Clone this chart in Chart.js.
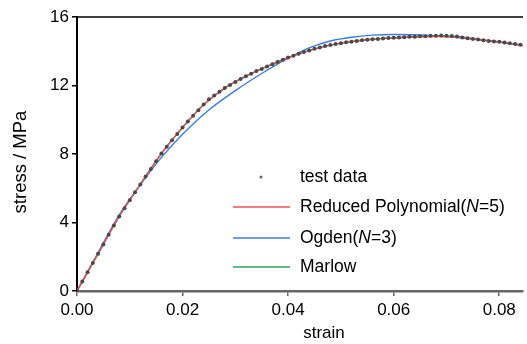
<!DOCTYPE html>
<html>
<head>
<meta charset="utf-8">
<script src="https://cdn.jsdelivr.net/npm/chart.js@4/dist/chart.umd.min.js"></script>
<style>
  html, body { margin: 0; padding: 0; background: #fff; }
  #wrap { width: 527px; height: 344px; position: relative; }
</style>
</head>
<body>
<div id="wrap"><canvas id="c" width="527" height="344"></canvas></div>
<script>
// ---- data ----
const seriesLabels = ['test data', 'Reduced Polynomial(N=5)', 'Ogden(N=3)', 'Marlow'];
const xTitle = 'strain';
const yTitle = 'stress / MPa';

const testStrain = [0.000,0.001,0.002,0.003,0.004,0.005,0.006,0.007,0.008,0.009,
  0.010,0.011,0.012,0.013,0.014,0.015,0.016,0.017,0.018,0.019,
  0.020,0.021,0.022,0.023,0.024,0.025,0.026,0.027,0.028,0.029,
  0.030,0.031,0.032,0.033,0.034,0.035,0.036,0.037,0.038,0.039,
  0.040,0.041,0.042,0.043,0.044,0.045,0.046,0.047,0.048,0.049,
  0.050,0.051,0.052,0.053,0.054,0.055,0.056,0.057,0.058,0.059,
  0.060,0.061,0.062,0.063,0.064,0.065,0.066,0.067,0.068,0.069,
  0.070,0.071,0.072,0.073,0.074,0.075,0.076,0.077,0.078,0.079,
  0.080,0.081,0.082,0.083,0.084,0.085];
const testStress = [0.00,0.55,1.09,1.63,2.17,2.72,3.28,3.83,4.35,4.83,
  5.30,5.77,6.22,6.68,7.13,7.58,8.03,8.42,8.80,9.17,
  9.55,9.90,10.23,10.56,10.89,11.19,11.42,11.64,11.85,12.03,
  12.21,12.38,12.54,12.69,12.84,12.97,13.11,13.24,13.37,13.50,
  13.63,13.74,13.85,13.95,14.05,14.14,14.22,14.30,14.36,14.42,
  14.47,14.52,14.56,14.60,14.64,14.67,14.70,14.72,14.75,14.77,
  14.79,14.81,14.82,14.84,14.85,14.87,14.88,14.90,14.91,14.92,
  14.91,14.89,14.86,14.81,14.76,14.72,14.68,14.64,14.60,14.57,
  14.55,14.51,14.47,14.43,14.38,14.34];

const polyStrain = [0,0.004,0.008,0.012,0.016,0.020,0.024,0.028,0.032,0.036,0.040,0.044,0.048,0.052,0.056,0.060,0.064,0.068,0.072,0.076,0.080,0.0845];
const polyStress = [0,2.18,4.36,6.24,8.03,9.55,10.87,11.86,12.55,13.12,13.62,14.04,14.36,14.57,14.70,14.78,14.83,14.86,14.84,14.70,14.54,14.33];

const ogdenStrain = [0,0.004,0.008,0.012,0.016,0.020,0.0247,0.030,0.035,0.040,0.044,0.048,0.052,0.056,0.060,0.064,0.068,0.072,0.076,0.080,0.0845];
const ogdenStress = [0,2.25,4.45,6.20,7.80,9.15,10.50,11.70,12.70,13.60,14.20,14.60,14.82,14.94,14.98,14.96,14.90,14.80,14.67,14.53,14.33];

const marlowStrain = [0,0.004,0.008,0.012,0.016,0.020,0.024,0.028,0.032,0.036,0.040,0.044,0.048,0.052,0.056,0.060,0.064,0.068,0.072,0.076,0.080,0.0845];
const marlowStress = [0,2.17,4.35,6.22,8.03,9.55,10.89,11.85,12.54,13.11,13.63,14.05,14.36,14.56,14.70,14.79,14.85,14.91,14.86,14.68,14.55,14.36];

const xTicks = [0.00, 0.02, 0.04, 0.06, 0.08];
const yTicks = [0, 4, 8, 12, 16];

// ---- styles ----
const FONT = "'Liberation Sans', Arial, Helvetica, sans-serif";
const colors = { test: '#4a4a4a', poly: '#ee5050', ogden: '#3b7dd8', marlow: '#2fa060' };

const pts = (xs, ys) => xs.map((x, i) => ({ x: x, y: ys[i] }));

const frame = {
  id: 'frame',
  afterDraw(chart) {
    const { ctx, chartArea: a } = chart;
    ctx.save();
    // top border
    ctx.strokeStyle = '#000';
    ctx.lineWidth = 1.5;
    ctx.beginPath();
    ctx.moveTo(a.left - 1, a.top);
    ctx.lineTo(a.right, a.top);
    ctx.stroke();
    // axis titles
    ctx.fillStyle = '#000';
    ctx.textAlign = 'center';
    ctx.textBaseline = 'middle';
    ctx.font = '17px ' + FONT;
    ctx.fillText(xTitle, 324, 333);
    ctx.translate(21, 162);
    ctx.rotate(-Math.PI / 2);
    ctx.font = '18.5px ' + FONT;
    ctx.fillText(yTitle, 0, 0);
    ctx.restore();

    // legend
    ctx.save();
    const rowsY = [177, 207, 238, 267];
    const lineX0 = 233, lineX1 = 290, textX = 300;
    const size = 17.5;
    chart.data.datasets.forEach((ds, i) => {
      const y = rowsY[i];
      if (i === 0) {
        ctx.fillStyle = '#666';
        ctx.beginPath();
        ctx.arc(261, y, 1.5, 0, Math.PI * 2);
        ctx.fill();
      } else {
        ctx.strokeStyle = ds.borderColor;
        ctx.lineWidth = 1.5;
        ctx.beginPath();
        ctx.moveTo(lineX0, y);
        ctx.lineTo(lineX1, y);
        ctx.stroke();
      }
      ctx.fillStyle = '#000';
      ctx.textAlign = 'left';
      ctx.textBaseline = 'middle';
      // italic N inside "(N="
      const parts = ds.label.split(/(N(?==))/);
      let x = textX;
      parts.forEach(p => {
        if (!p) return;
        ctx.font = (p === 'N' ? 'italic ' : '') + size + 'px ' + FONT;
        ctx.fillText(p, x, y);
        x += ctx.measureText(p).width;
      });
    });
    ctx.restore();
  }
};

new Chart(document.getElementById('c'), {
  type: 'scatter',
  data: {
    datasets: [
      { label: seriesLabels[0], data: pts(testStrain, testStress), showLine: false,
        pointRadius: 2, pointBackgroundColor: colors.test, pointBorderWidth: 0,
        borderColor: colors.test, order: 0 },
      { label: seriesLabels[1], data: pts(polyStrain, polyStress), showLine: true,
        borderColor: colors.poly, borderWidth: 1.4, pointRadius: 0,
        cubicInterpolationMode: 'monotone', fill: false, order: 1 },
      { label: seriesLabels[2], data: pts(ogdenStrain, ogdenStress), showLine: true,
        borderColor: colors.ogden, borderWidth: 1.4, pointRadius: 0,
        cubicInterpolationMode: 'monotone', fill: false, order: 1 },
      { label: seriesLabels[3], data: pts(marlowStrain, marlowStress), showLine: true,
        borderColor: colors.marlow, borderWidth: 1.4, pointRadius: 0,
        cubicInterpolationMode: 'monotone', fill: false, order: 2 }
    ]
  },
  options: {
    responsive: false,
    animation: false,
    devicePixelRatio: 1,
    layout: { padding: { top: 17, right: 0, bottom: 0, left: 0 } },
    plugins: { legend: { display: false }, tooltip: { enabled: false } },
    scales: {
      x: {
        type: 'linear', min: 0, max: 0.0845,
        afterFit(s) { s.height = 53; },
        afterBuildTicks(s) { s.ticks = xTicks.map(v => ({ value: v })); },
        ticks: { includeBounds: false, padding: 4, color: '#000',
          font: { family: FONT, size: 17 }, maxRotation: 0,
          callback: v => Number(v).toFixed(2) },
        grid: { display: true, drawOnChartArea: false, drawTicks: true, tickLength: 5,
          color: '#666', lineWidth: 1.5 },
        border: { display: true, color: '#666', width: 2.5 }
      },
      y: {
        type: 'linear', min: 0, max: 16,
        afterFit(s) { s.width = 77; },
        afterBuildTicks(s) { s.ticks = yTicks.map(v => ({ value: v })); },
        ticks: { padding: 3, color: '#000', font: { family: FONT, size: 17 },
          callback: v => String(v) },
        grid: { display: true, drawOnChartArea: false, drawTicks: true, tickLength: 5,
          color: '#000', lineWidth: 1.5 },
        border: { display: true, color: '#000', width: 2 }
      }
    }
  },
  plugins: [frame]
});
</script>
</body>
</html>
